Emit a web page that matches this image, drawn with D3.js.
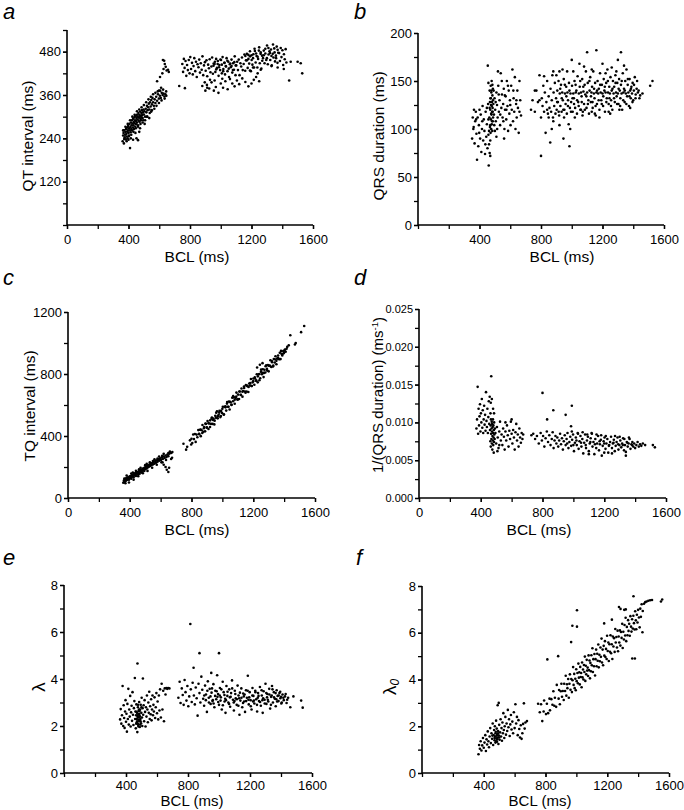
<!DOCTYPE html>
<html><head><meta charset="utf-8">
<script src="https://cdn.jsdelivr.net/npm/d3@7"></script>
<style>
body{margin:0;background:#fff}
text{font-family:"Liberation Sans",Arial,sans-serif;fill:#000}
</style></head>
<body><svg id="chart" width="684" height="810"></svg>
<script>
// ---------- tick labels ----------
const bclTicksAll = [0, 400, 800, 1200, 1600];
const bclTicksNoZero = [400, 800, 1200, 1600];
const qtTicks = [120, 240, 360, 480];
const qrsTicks = [0, 50, 100, 150, 200];
const tqTicks = [0, 400, 800, 1200];
const invQrsTicks = [0, 0.005, 0.010, 0.015, 0.020, 0.025];
const lambdaTicks = [0, 2, 4, 6, 8];

// ---------- (a) QT interval vs BCL ----------
const qtData = [
[362,232],[365,248],[368,255],[370,226],[372,262],[375,243],[378,250],[380,258],[382,237],[384,266],[386,252],[388,245],[390,270],[392,258],[394,240],[396,262],[398,274],[400,255],[402,268],[404,248],[406,280],[408,262],[410,213],[412,271],[414,257],[416,284],[418,266],[420,276],[422,290],[424,262],[426,281],[428,270],[430,294],[432,276],[434,285],[436,266],[438,298],[440,282],[442,290],[444,272],[446,301],[448,288],[450,279],[452,296],[454,305],[456,284],[458,292],[460,300],[462,276],[464,310],[466,289],[468,297],[470,305],[472,286],[474,300],[476,314],[478,294],[480,303],[482,290],[484,310],[486,298],[488,318],[490,305],[492,296],[494,312],[496,290],[498,320],[500,306],[504,315],[508,300],[512,322],[516,312],[520,330],[524,318],[528,326],[532,336],[536,320],[540,340],[544,328],[548,346],[552,334],[556,352],[560,340],[565,330],[570,348],[575,338],[580,355],[586,344],[592,362],[598,350],[604,358],[610,352],[616,366],[622,360],[628,364],[634,356],[640,362],[646,358],[452,240],[430,236],[470,258],[400,236],[520,300],[548,314],[462,235],
[365,262],[372,238],[380,272],[388,232],[395,280],[402,246],[410,290],[418,250],[425,300],[432,258],[440,305],[448,268],[455,315],[462,272],[470,320],[478,280],[485,326],[492,284],[500,332],[508,290],[515,340],[522,300],[530,348],[538,310],[545,355],[552,318],[560,362],[568,322],[575,366],[582,330],[590,370],[598,338],[606,372],[615,345],[625,375],[635,350],[645,370],[415,240],[445,255],[475,268],[505,280],[535,296],
[586,398],[605,410],[620,420],[624,457],[628,432],[632,455],[636,446],[642,438],[648,428],[657,430],[662,424],[612,380],[598,372],
[730,385],[767,379],[750,446],[755,424],[760,460],[765,435],[771,454],[776,413],[781,443],[786,429],[792,457],[797,420],[802,465],[807,432],[813,449],[818,417],[823,440],[828,462],[834,426],[839,452],[844,410],[849,445],[855,437],[860,458],[865,422],[870,448],[876,430],[881,467],[886,415],[891,442],[897,451],[902,427],[907,456],[912,412],[918,444],[923,434],[928,459],[933,423],[939,439],[944,464],[949,419],[954,447],[960,446],[965,424],[970,460],[975,435],[981,454],[986,413],[991,443],[996,429],[1002,457],[1007,420],[1012,465],[1017,432],[1023,449],[1028,417],[1033,440],[1038,462],[1044,426],[1049,452],[1054,410],[1059,445],[1065,437],[1070,458],[1075,422],[1080,448],[1086,430],[1091,467],[1096,415],
[1101,442],[1107,452],[1112,429],[1117,458],[1122,415],[1128,448],[1133,439],[1138,464],[1143,429],[1149,446],[1154,472],[1159,427],[1164,456],[1170,456],[1175,435],[1180,471],[1185,447],[1191,467],[1196,426],[1201,457],[1206,444],[1212,473],[1217,436],[1222,482],[1227,450],[1233,468],[1238,436],[1243,460],[1248,483],[1254,448],[1259,474],[1264,433],[1269,469],[1275,462],[1280,483],[1285,448],[1290,475],[1296,457],
[1301,497],[1306,445],[1311,472],[1317,481],[1322,457],[1327,486],[1332,442],[1338,474],[1343,464],[1348,489],[1353,453],[1359,469],[1364,494],[1369,449],[1374,477],[1380,476],[1385,454],[1390,490],[1395,465],[1401,484],[1406,443],[1411,473],[1416,459],[1422,487],[1427,450],
[953,441],[962,452],[971,431],[980,446],[989,437],[998,458],[1007,444],[1016,426],[1025,449],[1034,439],[1043,455],[1052,433],[1061,447],[1070,440],[1079,429],[1088,451],[1097,442],[1160,468],[1170,474],[1180,460],[1190,481],[1200,470],[1210,462],[1220,488],[1230,475],[1240,466],[1250,492],[1260,478],[1270,455],[1280,470],[1290,488],[1300,462],[1310,490],[1320,476],[1330,468],[1340,500],[1350,478],[1360,462],[1370,485],
[880,385],[900,372],[896,395],[912,380],[910,388],[925,378],[940,395],[955,372],[968,382],[985,366],[1000,392],[1015,380],[1030,398],[1045,376],[1060,404],[1075,392],[1090,384],[1105,400],[1120,390],[1140,406],[1160,396],[1180,384],[1200,392],[1215,402],[1230,410],[1250,398],[930,402],[960,400],[1010,405],
[1445,400],[1455,452],[1500,452],[1520,448],[1530,420],[1410,432],[1370,436],[1330,440],[1210,436],[1240,420],[1190,428],[1260,430]
];

// ---------- (b) QRS duration vs BCL ----------
const qrsData = [
[352,90],[356,112],[360,100],[364,120],[368,85],[372,108],[376,118],[380,95],[384,68],[388,112],[392,82],[396,104],[400,120],[404,90],[408,115],[412,76],[416,100],[420,124],[424,88],[428,110],[432,98],[436,74],[440,118],[444,92],[448,105],[452,80],[456,126],[460,62],[462,98],[464,112],[466,140],[468,102],[470,120],[471,132],[472,96],[473,145],[474,110],[475,125],[476,100],[477,138],[478,115],[479,150],[480,105],[481,128],[482,118],[483,98],[484,135],[485,122],[486,108],[487,142],[488,112],[454,166],[458,148],[462,84],[466,75],[470,88],
[362,102],[378,110],[398,96],[418,108],[438,84],[448,122],[458,110],[466,122],[474,132],[476,116],[478,140],[480,124],[482,108],[484,146],[470,104],[468,128],[486,118],[488,130],[492,140],[496,104],[505,128],[515,100],[525,136],[535,115],[545,150],[555,108],[565,135],[575,120],[585,145],[600,125],[620,140],[640,130],[660,150],[470,72],[458,94],
[490,126],[494,115],[498,132],[502,120],[506,108],[510,138],[514,125],[518,112],[522,145],[526,118],[530,130],[534,104],[538,158],[542,122],[546,136],[550,112],[554,126],[558,142],[562,100],[566,120],[570,134],[574,110],[578,150],[582,124],[586,98],[590,140],[594,116],[598,130],[602,104],[606,145],[610,120],[614,162],[618,108],[622,132],[626,118],[630,154],[634,100],[638,126],[642,112],[646,140],[650,122],[655,96],[660,118],[665,130],[670,114],[500,98],[510,92],[560,90],[520,160],
[735,120],[745,130],[760,118],[770,140],[780,128],[790,156],[800,72],[800,112],[805,132],[810,124],[815,145],[820,118],[825,138],[830,96],[835,128],[840,150],[845,116],[850,134],[855,122],[860,86],[862,142],[866,118],[870,130],[874,156],[878,112],[882,138],[886,124],[890,148],[894,116],[898,132],[902,120],[906,140],[910,128],[914,150],[918,114],[922,137],[926,124],[930,146],[934,118],[938,138],[942,130],[946,90],[948,152],[952,120],[956,137],[960,126],[964,144],[968,116],[972,138],[976,130],[980,105],[982,148],[985,82],[988,122],[990,100],[992,137],[996,128],[1000,172],[1002,145],[1006,118],[1010,137],[1014,132],[1018,150],[1022,122],[1026,138],[1030,140],[1034,116],[1038,155],[1042,128],[1046,137],[1050,168],[1052,144],[1056,120],[1060,138],[1064,134],[1068,152],[1072,118],[1076,139],[1080,126],[1084,146],[1088,136],[1092,160],[1096,122],[1100,180],[1100,138],[1104,148],[1108,130],[1112,116],[1116,140],[1120,154],[1124,128],[1128,138],[1132,144],[1136,122],[1140,160],[1144,137],[1148,132],[1152,148],[1156,114],[1160,182],[1160,138],[1164,126],[1168,150],[1172,137],[1176,142],[1180,120],[1184,158],[1188,138],[1192,130],[1196,146],[1200,137],[1204,124],[1208,152],[1212,140],[1216,118],[1220,138],[1224,148],[1228,132],[1232,162],[1236,138],[1240,126],[1244,144],[1248,137],[1252,154],[1256,130],[1260,140],[1264,120],[1268,150],[1272,137],[1276,144],[1280,128],[1284,156],[1288,138],[1292,134],[1296,148],[1300,172],[1300,137],[1304,126],[1308,152],[1312,140],[1316,132],[1320,180],[1320,146],[1324,137],[1328,120],[1332,158],[1336,138],[1340,142],[1344,128],[1348,150],[1352,137],[1356,162],[1360,134],[1364,146],[1368,138],[1372,124],[1376,152],[1380,140],[1384,132],[1388,144],[1392,137],[1396,148],[1400,130],[1404,140],[1410,154],[1416,136],[1422,142],[1430,138],[1440,132],[1460,137],[1510,145],[1525,150],[920,160],[970,160],[1060,120],[1130,118],[1250,116],[1180,112],
[905,128],[915,118],[925,142],[935,132],[945,120],[955,146],[965,134],[975,124],[985,140],[995,118],[1005,132],[1015,126],[1025,146],[1035,130],[1045,124],[1055,150],[1065,128],[1075,144],[1085,120],[1095,134],[1105,126],[1115,150],[1125,134],[1135,128],[1145,142],[1155,124],[1165,140],[1175,130],[1185,146],[1195,126],[1205,134],[1215,144],[1225,128],[1235,150],[1245,132],[1255,124],[1265,142],[1275,132],[1285,148],[1295,126],[1305,142],[1315,124],[1325,150],[1335,130],[1345,140],[1355,126],[1365,152],[1375,134],[1385,142],[1395,128],[1405,146],[1415,132],[1425,150],[1435,140],[1445,135],
[880,160],[900,156],[940,162],[1010,160],[1080,165],[1130,162],[1200,168],[1260,164],[1340,166],[1290,160],[1220,158],[1020,112],[1070,114],[1150,116],[1240,118],[1310,120],[1380,122],[950,112],[880,108],[840,120],[870,100],[920,104],[760,140],[790,130],[820,155],[850,112]
];

// ---------- (c) TQ interval vs BCL ----------
const tqData = [
[358,98],[362,112],[365,104],[368,120],[371,108],[374,126],[377,114],[380,130],[383,118],[386,122],[389,134],[392,126],[395,118],[398,138],[401,128],[404,142],[407,134],[410,124],[413,146],[416,138],[419,150],[422,140],[425,132],[428,156],[431,146],[434,160],[437,150],[440,142],[443,164],[446,156],[449,168],[452,158],[455,150],[458,172],[461,164],[464,156],[467,178],[470,168],[473,182],[476,172],[479,164],[482,186],[485,178],[488,192],[491,182],[494,174],[497,196],[500,186],[504,200],[508,190],[512,206],[516,196],[520,212],[524,202],[528,216],[532,206],[536,222],[540,212],[545,226],[550,216],[555,232],[560,222],[565,238],[570,228],[575,244],[580,234],[585,250],[590,240],[596,256],[602,246],[608,262],[614,252],[620,268],[626,258],[632,274],[638,264],[644,280],[650,270],[656,286],[662,292],
[380,145],[395,100],[410,158],[425,118],[440,175],[455,140],[470,195],[485,160],[500,212],[515,175],[530,230],[545,195],[560,250],[575,215],[590,268],[605,230],[620,285],[635,245],[650,290],[365,125],[372,95],[420,165],[460,185],[510,220],[550,238],[580,255],[610,272],
[668,252],[674,260],[640,182],[650,168],[632,200],[620,215],[655,195],[600,245],[612,230],[660,300],[668,290],[676,296],[590,250],
[748,350],[765,312],[772,330],[790,372],[798,345],
[800,382],[805,355],[811,410],[816,380],[822,413],[827,362],[833,409],[838,392],[844,438],[849,415],[855,440],[860,399],[866,437],[871,471],[877,427],[882,458],[888,430],[893,478],[899,456],[904,497],[910,445],[915,481],[921,501],[926,478],[932,519],[937,478],[943,512],[948,475],[954,530],[959,517],[965,559],[970,514],[976,537],[981,562],[987,522],[992,562],[998,548],[1003,589],[1009,537],[1014,589],[1020,591],[1025,564],[1031,619],[1036,589],[1042,622],[1047,571],[1053,618],[1058,601],[1064,647],[1069,624],[1075,649],[1080,608],[1086,646],[1091,680],[1097,636],[1102,667],[1108,639],[1113,687],[1119,665],[1124,706],[1130,654],[1135,690],[1141,710],[1146,687],[1152,728],[1157,687],[1163,721],[1168,684],[1174,739],[1179,726],[1185,768],[1190,723],[1196,746],[1201,771],[1207,731],[1212,771],[1218,757],[1223,798],[1229,746],[1234,798],[1240,800],[1245,773],[1251,828],[1256,798],[1262,831],[1267,780],[1273,827],[1278,810],[1284,856],[1289,833],[1295,858],[1300,817],[1306,855],[1311,889],[1317,845],[1322,876],[1328,848],[1333,896],[1339,874],[1344,915],[1350,863],[1355,899],[1361,919],[1366,896],[1372,937],[1377,896],[1383,930],[1388,919],[1394,948],[1399,935],[1405,957],[1410,944],[1416,963],
[850,412],[860,441],[870,419],[880,450],[890,480],[900,453],[910,483],[920,458],[930,512],[940,503],[950,499],[960,550],[970,528],[980,551],[990,529],[1000,576],[1010,540],[1020,585],[1030,609],[1040,588],[1050,620],[1060,601],[1070,657],[1080,634],[1090,654],[1100,635],[1110,687],[1120,666],[1130,686],[1140,719],[1150,679],[1160,726],[1170,716],[1180,741],[1190,723],[1200,754],[1210,778],[1220,757],[1230,785],[1240,760],[1250,814],[1260,807],[1270,807],[1280,850],[1290,822],[1300,853],[1310,851],[1320,884],[1330,854],[1340,895],[1350,885],[1360,904],[1370,896],[1380,949],[1390,929],[1400,950],
[1440,1050],[1470,990],[1475,1000],[1510,1070],[1530,1110],[1243,860],[1260,870],[1225,842],[1420,975],[1430,985]
];

// ---------- (d) 1/(QRS duration) vs BCL ----------
const invQrsData = [
[372,0.0092],[376,0.0104],[380,0.0147],[383,0.0085],[386,0.0118],[389,0.0096],[392,0.0108],[395,0.0124],[398,0.0088],[401,0.0112],[404,0.0100],[407,0.0131],[410,0.0093],[413,0.0116],[416,0.0086],[419,0.0104],[422,0.0122],[425,0.0097],[428,0.0110],[431,0.0089],[434,0.0140],[437,0.0102],[440,0.0094],[443,0.0118],[446,0.0086],[449,0.0107],[452,0.0128],[455,0.0098],[458,0.0134],[460,0.0090],[462,0.0075],[463,0.0112],[464,0.0096],[465,0.0068],[466,0.0104],[467,0.0085],[468,0.0161],[469,0.0078],[470,0.0092],[471,0.0101],[472,0.0072],[473,0.0088],[474,0.0098],[475,0.0064],[476,0.0082],[477,0.0094],[478,0.0076],[479,0.0104],[480,0.0086],[481,0.0070],[482,0.0096],[483,0.0080],[484,0.0060],[485,0.0090],[486,0.0074],[487,0.0100],[488,0.0084],[490,0.0078],[492,0.0092],[465,0.0126],[472,0.0131],[480,0.0118],[486,0.0112],
[495,0.0086],[500,0.0072],[505,0.0094],[510,0.0080],[515,0.0066],[520,0.0088],[525,0.0101],[530,0.0076],[535,0.0084],[540,0.0070],[545,0.0092],[550,0.0081],[555,0.0064],[560,0.0088],[565,0.0076],[570,0.0096],[575,0.0083],[580,0.0068],[585,0.0089],[590,0.0078],[595,0.0101],[600,0.0085],[605,0.0072],[610,0.0090],[615,0.0080],[620,0.0064],[625,0.0087],[630,0.0098],[635,0.0076],[640,0.0084],[645,0.0068],[650,0.0092],[655,0.0080],[660,0.0073],[665,0.0086],[670,0.0078],[675,0.0084],[600,0.0104],[560,0.0100],[520,0.0070],[508,0.0062],
[728,0.0083],[740,0.0085],[752,0.0078],[764,0.0082],[776,0.0072],[788,0.0086],[796,0.0076],[800,0.0139],[804,0.0082],[812,0.0068],[820,0.0079],[828,0.0088],[830,0.0104],[836,0.0074],[844,0.0083],[852,0.0070],[860,0.0078],[866,0.0087],[870,0.0116],[872,0.0066],[878,0.0076],[884,0.0082],[890,0.0072],[896,0.0080],[902,0.0068],[908,0.0076],[914,0.0085],[920,0.0071],[926,0.0079],[932,0.0064],[938,0.0075],[944,0.0083],[950,0.0110],[950,0.0070],[956,0.0078],[962,0.0086],[968,0.0066],[974,0.0074],[980,0.0081],[985,0.0095],[986,0.0069],[990,0.0122],[990,0.0088],[992,0.0077],[998,0.0084],[1004,0.0062],[1010,0.0073],[1016,0.0080],[1022,0.0070],[1028,0.0086],[1034,0.0065],[1040,0.0075],[1046,0.0082],[1052,0.0068],[1058,0.0078],[1064,0.0059],[1070,0.0073],[1076,0.0084],[1082,0.0066],[1088,0.0076],[1094,0.0081],[1100,0.0062],[1106,0.0072],[1112,0.0079],[1118,0.0086],[1124,0.0068],[1130,0.0074],[1136,0.0058],[1142,0.0078],[1148,0.0066],[1154,0.0072],[1160,0.0082],[1166,0.0063],[1172,0.0071],[1178,0.0077],[1184,0.0056],[1190,0.0069],[1196,0.0075],[1202,0.0080],[1208,0.0065],[1214,0.0072],[1220,0.0078],[1226,0.0060],[1232,0.0070],[1238,0.0074],[1244,0.0081],[1250,0.0066],[1256,0.0072],[1262,0.0077],[1268,0.0062],[1274,0.0069],[1280,0.0074],[1286,0.0080],[1292,0.0064],[1298,0.0070],[1304,0.0076],[1310,0.0067],[1316,0.0072],[1322,0.0079],[1328,0.0063],[1334,0.0070],[1340,0.0056],[1346,0.0074],[1352,0.0068],[1358,0.0072],[1364,0.0078],[1370,0.0065],[1376,0.0071],[1382,0.0074],[1388,0.0068],[1394,0.0072],[1400,0.0066],[1408,0.0070],[1416,0.0074],[1424,0.0068],[1432,0.0071],[1440,0.0069],[1450,0.0072],[1465,0.0070],[1515,0.0070],[1528,0.0067],
[960,0.0072],[1000,0.0070],[1020,0.0076],[1050,0.0073],[1080,0.0070],[1110,0.0074],[1140,0.0071],[1170,0.0075],[1200,0.0072],[1230,0.0069],[1260,0.0073],[1290,0.0071],[1320,0.0070],[1350,0.0073],[1380,0.0070],[1030,0.0085],[1060,0.0087],[1090,0.0084],[1120,0.0085],[1150,0.0084],[1180,0.0083],[1210,0.0082],[1270,0.0082],[1300,0.0081],[1330,0.0078],[1360,0.0080],[1100,0.0058],[1200,0.0060],[1250,0.0059],[1340,0.0061]
];

// ---------- (e) lambda vs BCL ----------
const lambdaData = [
[362,2.28],[366,2.72],[370,2.10],[374,2.46],[378,3.70],[382,2.00],[385,2.88],[388,2.34],[391,1.92],[394,2.62],[397,3.10],[400,2.18],[403,2.52],[406,1.76],[409,2.94],[412,2.30],[415,3.58],[418,2.06],[421,2.70],[424,2.40],[427,3.28],[430,1.98],[433,2.58],[436,2.86],[439,2.22],[442,3.44],[445,2.48],[448,2.04],[451,2.76],[454,3.06],[457,4.04],[459,2.30],[461,2.62],[463,1.90],[465,2.46],[467,2.92],[469,2.14],[471,2.56],[473,1.74],[474,4.66],[475,2.38],[477,2.80],[479,2.04],[481,2.64],[483,2.26],[485,3.02],[487,2.44],[489,1.96],[491,2.70],[493,2.30],[495,2.90],[497,2.12],[499,2.56],[501,3.20],[503,2.36],[505,2.00],[507,2.76],[509,4.02],[511,2.48],[514,2.88],[517,2.20],[520,3.10],[523,2.60],[526,1.98],[529,2.80],[532,2.40],[535,3.30],[538,2.70],[541,2.16],[544,3.00],[547,2.56],[550,3.46],[553,2.30],[556,2.84],[559,2.50],[562,3.14],[565,2.24],[568,2.70],[571,3.30],[574,2.46],[577,2.90],[580,2.62],[584,3.22],[588,2.34],[592,2.80],[596,3.40],[600,2.54],[604,3.04],[608,2.28],[612,3.30],[616,2.66],[620,3.56],[625,2.36],[630,3.80],[635,2.70],[640,3.50],[645,2.20],[650,3.60],[655,3.34],[660,3.62],[666,3.58],[672,3.62],[680,3.60],[470,2.30],[480,2.50],[486,2.20],[476,2.10],[484,2.70],[490,2.40],
[468,2.60],[472,2.20],[478,2.90],[482,2.36],[488,2.64],[494,2.20],[500,2.80],[466,2.10],[474,2.44],[486,2.52],[480,1.98],[492,2.06],
[738,3.20],[746,3.88],[752,2.98],[760,3.60],[766,3.32],[772,2.90],[778,3.96],[784,3.44],[790,3.08],[796,3.70],[802,2.84],[808,3.26],[815,6.34],[818,3.56],[824,3.02],[830,3.84],[836,4.48],[838,3.30],[844,2.92],[850,3.64],[856,3.18],[862,2.44],[868,3.80],[874,5.10],[874,3.40],[880,3.00],[886,4.10],[892,3.54],[898,3.16],[904,2.86],[910,3.72],[916,3.34],[922,2.60],[928,3.90],[934,3.20],[940,3.58],[946,2.94],[950,4.26],[952,3.42],[958,3.06],[964,3.78],[970,2.80],[976,3.50],[982,3.14],[988,4.16],[994,3.36],[1000,5.10],[1000,2.90],[1006,3.62],[1012,3.22],[1018,2.70],[1024,3.88],[1030,3.44],[1036,3.04],[1042,2.56],[1048,3.70],[1054,3.28],[1060,3.00],[1066,3.56],[1072,2.82],[1078,3.40],[1084,3.94],[1090,3.12],[1096,2.66],[1102,3.50],[1108,3.18],[1114,2.90],[1120,3.72],[1126,3.30],[1132,2.48],[1138,3.08],[1144,3.60],[1150,2.80],[1156,3.38],[1162,3.04],[1168,2.60],[1174,3.52],[1180,3.20],[1186,4.14],[1192,2.92],[1198,3.44],[1204,3.10],[1210,2.70],[1216,3.62],[1222,3.28],[1228,2.96],[1234,3.50],[1240,3.14],[1246,2.62],[1252,3.40],[1258,3.06],[1264,3.66],[1270,2.86],[1276,3.30],[1282,2.56],[1288,3.48],[1294,3.12],[1300,3.80],[1306,2.94],[1312,3.36],[1318,3.04],[1324,3.58],[1330,2.74],[1336,3.24],[1342,3.70],[1348,3.00],[1354,3.44],[1360,3.16],[1366,2.84],[1372,3.52],[1378,3.28],[1384,3.06],[1390,3.40],[1396,3.18],[1402,2.96],[1410,3.34],[1418,3.10],[1426,3.26],[1436,2.98],[1446,3.20],[1460,2.80],[1480,3.26],[1530,3.08],[1540,2.78],
[960,3.10],[990,3.24],[1010,3.08],[1040,3.16],[1070,3.22],[1100,3.06],[1130,3.18],[1160,3.26],[1190,3.12],[1220,3.04],[1250,3.20],[1280,3.10],[1310,3.22],[1340,3.30],[1370,3.14],[1400,3.24],
[905,3.30],[915,3.10],[925,3.50],[935,3.00],[945,3.26],[955,3.60],[965,2.96],[975,3.28],[985,3.48],[995,3.02],[1005,3.30],[1015,3.56],[1025,2.88],[1035,3.32],[1045,3.10],[1055,3.46],[1065,2.94],[1075,3.24],[1085,3.60],[1095,3.00],[1105,3.36],[1115,3.14],[1125,2.86],[1135,3.42],[1145,3.20],[1155,2.98],[1165,3.34],[1175,3.06],[1185,3.50],[1195,3.22],[1205,2.84],[1215,3.30],[1225,3.08],[1235,3.44],[1245,2.90],[1255,3.28],[1265,3.02],[1275,3.52],[1285,3.18],[1295,2.96],[1305,3.40],[1315,3.12],[1325,3.34],[1335,2.90],[1345,3.56],[1355,3.22],[1365,3.40],[1375,3.04],[1385,3.30],[1395,3.46],[1405,3.00],[1415,3.20],[1430,3.36],[1440,3.12]
];

// ---------- (f) lambda0 vs BCL ----------
const lambda0Data = [
[366,0.80],[370,1.20],[375,1.04],[380,1.36],[385,0.96],[390,1.18],[395,1.50],[400,1.08],[405,1.30],[410,1.62],[414,0.94],[418,1.44],[422,1.22],[426,1.78],[430,1.36],[434,1.10],[438,1.56],[442,1.92],[446,1.28],[450,1.70],[454,1.46],[458,2.12],[461,1.20],[464,1.62],[467,1.84],[470,1.40],[472,2.00],[474,1.56],[476,1.30],[478,1.76],[480,2.24],[482,1.48],[484,1.90],[486,1.34],[488,1.66],[490,2.90],[491,1.52],[493,1.80],[495,1.24],[497,3.00],[498,1.60],[500,2.06],[503,1.42],[506,1.74],[509,2.30],[512,1.56],[515,1.92],[518,1.38],[521,2.16],[524,1.70],[527,2.56],[530,1.84],[533,1.50],[536,2.00],[540,2.40],[544,1.64],[548,2.12],[552,1.80],[556,2.70],[560,1.96],[564,2.30],[568,1.58],[572,2.08],[576,2.48],[580,1.86],[585,2.20],[590,1.70],[595,2.60],[600,1.92],[605,2.94],[610,2.12],[615,2.40],[620,1.62],[625,2.26],[630,1.88],[635,1.52],[640,2.04],[645,1.46],[650,1.70],[655,2.10],[660,2.98],[665,1.90],[670,2.16],[680,2.22],[470,1.50],[476,1.70],[484,1.60],[488,1.44],[480,1.36],[492,1.70],[456,1.60],[500,1.52],
[752,2.96],[763,2.60],[771,2.94],[779,2.22],[788,2.63],[791,3.10],[803,2.52],[809,2.96],[812,4.86],[817,2.56],[826,3.18],[829,2.68],[838,3.16],[845,2.92],[851,3.50],[857,2.88],[861,3.22],[869,2.83],[873,3.77],[882,5.00],[885,3.18],[888,3.55],[893,2.94],[899,3.50],[903,3.82],[907,3.26],[912,3.51],[918,3.12],[921,3.82],[927,3.51],[931,4.16],[935,3.31],[939,3.80],[942,3.63],[947,4.02],[951,3.22],[955,3.82],[958,4.22],[962,3.56],[966,5.60],[967,4.02],[971,3.46],[974,6.30],[975,3.97],[979,4.53],[982,3.77],[986,4.24],[989,3.63],[993,4.03],[996,3.54],[999,4.44],[1002,3.93],[1004,6.96],[1004,6.26],[1007,4.28],[1010,3.84],[1013,4.68],[1016,4.08],[1019,4.31],[1022,3.79],[1025,4.54],[1028,4.11],[1031,4.28],[1034,3.67],[1037,4.73],[1040,4.09],[1043,4.43],[1046,4.00],[1049,4.62],[1052,4.32],[1055,4.98],[1058,3.94],[1061,4.59],[1064,4.22],[1067,4.84],[1070,4.38],[1073,4.51],[1076,4.15],[1079,5.03],[1082,4.40],[1085,4.81],[1088,4.05],[1091,4.71],[1094,4.35],[1097,5.04],[1100,4.61],[1104,5.34],[1107,4.32],[1110,4.87],[1114,4.57],[1117,5.09],[1121,4.17],[1124,4.87],[1128,5.28],[1131,4.57],[1135,5.10],[1138,4.80],[1142,5.50],[1145,4.52],[1149,5.06],[1152,4.78],[1156,5.37],[1159,4.97],[1163,5.75],[1166,4.73],[1170,5.28],[1173,4.61],[1177,5.44],[1180,6.40],[1181,5.02],[1185,5.64],[1188,4.96],[1192,5.31],[1196,4.88],[1199,5.87],[1203,5.22],[1207,5.58],[1210,4.79],[1214,5.51],[1218,5.19],[1221,5.89],[1225,5.12],[1229,5.51],[1230,6.56],[1233,4.88],[1236,5.84],[1240,5.41],[1244,5.77],[1248,5.18],[1252,6.16],[1255,5.58],[1259,5.82],[1263,5.37],[1267,6.09],[1270,5.21],[1274,5.84],[1276,7.10],[1278,5.58],[1282,6.10],[1285,5.45],[1286,7.02],[1289,6.03],[1293,5.78],[1297,6.38],[1300,5.35],[1304,6.04],[1308,5.71],[1310,6.98],[1312,6.33],[1316,5.88],[1319,6.64],[1320,7.00],[1323,5.64],[1327,6.25],[1331,5.89],[1335,6.54],[1338,6.08],[1342,6.38],[1346,5.87],[1350,6.71],[1354,6.26],[1357,6.05],[1361,6.58],[1362,4.90],[1365,6.18],[1369,6.73],[1370,7.56],[1373,6.41],[1377,6.14],[1379,4.90],[1381,6.92],[1385,6.53],[1388,6.15],[1392,6.77],[1396,6.44],[1400,6.98],[1405,6.65],[1410,6.23],[1414,7.03],[1418,6.68],[1423,7.22],[1428,6.02],[1430,6.93],[1438,7.24],[1446,7.31],[1455,7.34],[1466,7.37],[1478,7.39],[1490,7.40],[1548,7.34],[1556,7.42]
];

// ---------- layout ----------
const svg = d3.select('#chart');
const FONT_TICK = 13, FONT_TITLE = 15.5;

const panels = [
  {letter:'a', lx:3, ly:19, data:qtData, x0:67, w:246, y0:225, yTop:30, yMax:540, yStep:60,
   yTicks:qtTicks, yFmt:d3.format('d'), xTicks:bclTicksAll, title:'QT interval (ms)', tx:28, ty:136, bx:197, by:262, pad:5.3},
  {letter:'b', lx:354, ly:19, data:qrsData, x0:418, w:246, y0:225, yTop:33, yMax:200, yStep:25,
   yTicks:qrsTicks, yFmt:d3.format('d'), xTicks:bclTicksNoZero, title:'QRS duration (ms)', tx:379, ty:136, bx:562, by:262, pad:5.3},
  {letter:'c', lx:3, ly:285, data:tqData, x0:68, w:247, y0:498, yTop:312, yMax:1200, yStep:200,
   yTicks:tqTicks, yFmt:d3.format('d'), xTicks:bclTicksAll, title:'TQ interval (ms)', tx:30, ty:406, bx:197, by:535, pad:5.3},
  {letter:'d', lx:354, ly:285, data:invQrsData, x0:419, w:247, y0:498, yTop:309, yMax:0.025, yStep:0.0025,
   yTicks:invQrsTicks, yFmt:d3.format('.3f'), xTicks:bclTicksAll, title:'invqrs', tx:378, ty:395, bx:539, by:535, yFont:11, pad:5.3},
  {letter:'e', lx:3, ly:565, data:lambdaData, x0:64, w:248, y0:773, yTop:585, yMax:8, yStep:1,
   yTicks:lambdaTicks, yFmt:d3.format('d'), xTicks:bclTicksNoZero, title:'lambda', tx:38, ty:687, bx:192, by:806, pad:3.3, titleSize:15},
  {letter:'f', lx:356, ly:565, data:lambda0Data, x0:422, w:247, y0:773, yTop:586, yMax:8, yStep:1,
   yTicks:lambdaTicks, yFmt:d3.format('d'), xTicks:bclTicksNoZero, title:'lambda0', tx:389, ty:687, bx:540, by:806, pad:3.3, titleSize:15}
];

function drawPanel(p){
  const x = d3.scaleLinear().domain([0,1600]).range([p.x0, p.x0 + p.w]);
  const y = d3.scaleLinear().domain([0,p.yMax]).range([p.y0, p.yTop]);
  const g = svg.append('g');

  g.append('g').selectAll('circle').data(p.data).join('circle')
    .attr('cx', d => x(d[0])).attr('cy', d => y(d[1])).attr('r', 1.3).attr('fill', '#000');

  const xMinor = d3.range(0, 1601, 200);
  const yMinor = d3.range(0, Math.round(p.yMax / p.yStep) + 1).map(i => i * p.yStep);
  g.append('g').attr('transform', `translate(0,${p.y0})`)
    .call(d3.axisBottom(x).tickValues(xMinor).tickSize(4).tickSizeOuter(0).tickFormat(''))
    .call(s => { s.select('.domain').remove(); s.selectAll('line').attr('stroke-width', 1.3); });
  g.append('g').attr('transform', `translate(${p.x0},0)`)
    .call(d3.axisLeft(y).tickValues(yMinor).tickSize(4).tickSizeOuter(0).tickFormat(''))
    .call(s => { s.select('.domain').remove(); s.selectAll('line').attr('stroke-width', 1.3); });

  const xa = g.append('g').attr('transform', `translate(0,${p.y0})`)
    .call(d3.axisBottom(x).tickValues(p.xTicks).tickSize(4).tickPadding(p.pad).tickSizeOuter(0).tickFormat(d3.format('d')));
  xa.select('.domain').remove();
  xa.selectAll('line').attr('stroke-width', 1.3);
  xa.selectAll('text').attr('font-size', FONT_TICK).attr('font-family', '"Liberation Sans",Arial,sans-serif').attr('fill', '#000');

  const ya = g.append('g').attr('transform', `translate(${p.x0},0)`)
    .call(d3.axisLeft(y).tickValues(p.yTicks).tickSize(4).tickPadding(2).tickSizeOuter(0).tickFormat(p.yFmt));
  ya.select('.domain').remove();
  ya.selectAll('line').attr('stroke-width', 1.3);
  ya.selectAll('text').attr('font-size', p.yFont || FONT_TICK).attr('font-family', '"Liberation Sans",Arial,sans-serif').attr('fill', '#000');

  g.append('line').attr('x1', p.x0).attr('x2', p.x0 + p.w).attr('y1', p.y0).attr('y2', p.y0)
    .attr('stroke', '#000').attr('stroke-width', 1.6);
  g.append('line').attr('x1', p.x0).attr('x2', p.x0).attr('y1', p.y0 + 0.8).attr('y2', p.yTop)
    .attr('stroke', '#000').attr('stroke-width', 1.6);

  g.append('text').attr('x', p.lx).attr('y', p.ly).attr('font-size', 22).attr('font-style', 'italic').text(p.letter);

  g.append('text').attr('x', p.bx).attr('y', p.by).attr('text-anchor', 'middle')
    .attr('font-size', p.titleSize || FONT_TITLE).text('BCL (ms)');

  const yt = g.append('text').attr('transform', `translate(${p.tx},${p.ty}) rotate(-90)`)
    .attr('text-anchor', 'middle').attr('dy', '0.35em').attr('font-size', FONT_TITLE);
  if (p.title === 'invqrs') {
    yt.attr('font-size', 15);
    yt.append('tspan').text('1/(QRS duration) (ms');
    yt.append('tspan').attr('font-size', 9.5).attr('dy', '-0.6em').text('-1');
    yt.append('tspan').attr('dy', '0.4em').text(')');
  } else if (p.title === 'lambda') {
    yt.attr('font-size', 19).text('λ');
  } else if (p.title === 'lambda0') {
    yt.attr('font-size', 19);
    yt.append('tspan').text('λ');
    yt.append('tspan').attr('font-size', 12).attr('dy', '0.3em').attr('font-style', 'italic').text('0');
  } else {
    yt.text(p.title);
  }
}

panels.forEach(drawPanel);
</script>
</body></html>
